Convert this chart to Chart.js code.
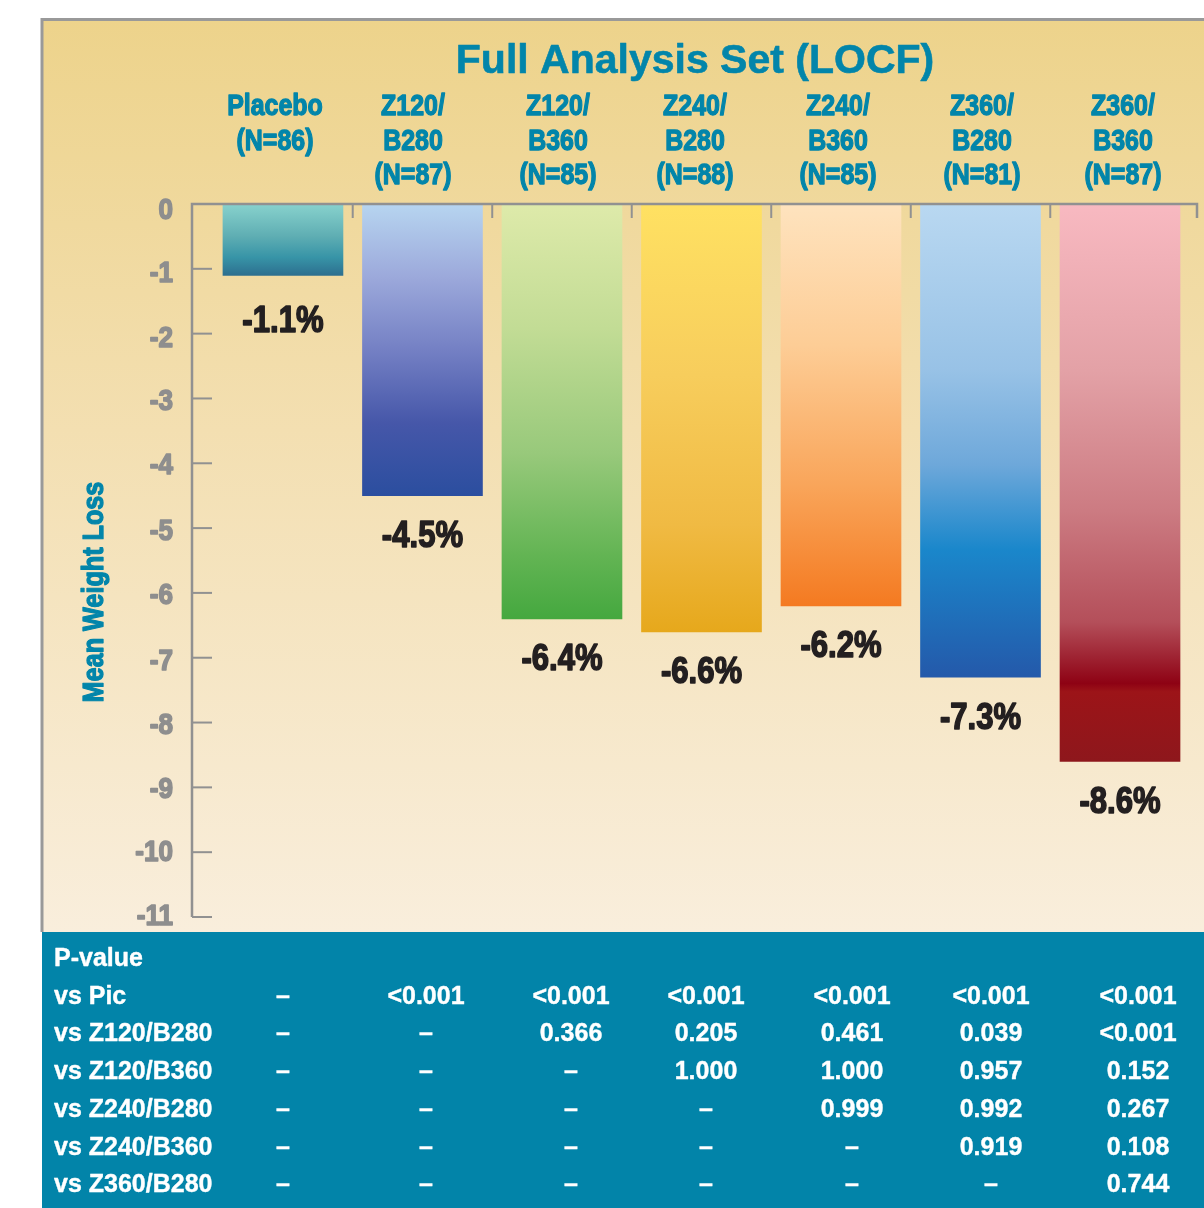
<!DOCTYPE html>
<html>
<head>
<meta charset="utf-8">
<script src="https://cdn.jsdelivr.net/npm/chart.js@4.4.1/dist/chart.umd.min.js"></script>
<style>
  html, body { margin: 0; padding: 0; background: #ffffff; }
  #c { display: block; }
</style>
</head>
<body>
<canvas id="c" width="1204" height="1208"></canvas>
<script>
// ---------------- DATA ----------------
const chartTitle = "Full Analysis Set (LOCF)";
const categories = [
  ["Placebo", "(N=86)"],
  ["Z120/", "B280", "(N=87)"],
  ["Z120/", "B360", "(N=85)"],
  ["Z240/", "B280", "(N=88)"],
  ["Z240/", "B360", "(N=85)"],
  ["Z360/", "B280", "(N=81)"],
  ["Z360/", "B360", "(N=87)"]
];
const meanWeightLoss = [-1.1, -4.5, -6.4, -6.6, -6.2, -7.3, -8.6];
const yTicks = [0, -1, -2, -3, -4, -5, -6, -7, -8, -9, -10, -11];
const yAxisTitle = "Mean Weight Loss";
const tableHeader = "P-value";
const rowLabels = ["vs Pic", "vs Z120/B280", "vs Z120/B360", "vs Z240/B280", "vs Z240/B360", "vs Z360/B280"];
const pVsPlacebo = ["–", "<0.001", "<0.001", "<0.001", "<0.001", "<0.001", "<0.001"];
const pVsZ120B280 = ["–", "–", "0.366", "0.205", "0.461", "0.039", "<0.001"];
const pVsZ120B360 = ["–", "–", "–", "1.000", "1.000", "0.957", "0.152"];
const pVsZ240B280 = ["–", "–", "–", "–", "0.999", "0.992", "0.267"];
const pVsZ240B360 = ["–", "–", "–", "–", "–", "0.919", "0.108"];
const pVsZ360B280 = ["–", "–", "–", "–", "–", "–", "0.744"];
const pRows = [pVsPlacebo, pVsZ120B280, pVsZ120B360, pVsZ240B280, pVsZ240B360, pVsZ360B280];

// ---------------- STYLE ----------------
const TEAL = "#0285AA";
const AXIS_GRAY = "#919191";
const barGradients = [
  [[0, "#88D2CD"], [0.45, "#5FAEB3"], [0.75, "#3794A7"], [1, "#2D6F8F"]],
  [[0, "#B7D5F0"], [0.25, "#9CA9DB"], [0.5, "#7480C4"], [0.75, "#4657A9"], [1, "#2B4E9F"]],
  [[0, "#DEEAAA"], [0.3, "#C2DC95"], [0.6, "#98C97B"], [0.85, "#62B453"], [1, "#45A83F"]],
  [[0, "#FFE162"], [0.4, "#F7CD5C"], [0.75, "#F0BA43"], [1, "#E6A81C"]],
  [[0, "#FEE3BE"], [0.35, "#FDCD96"], [0.7, "#F9A55A"], [1, "#F47A21"]],
  [[0, "#B9D8F1"], [0.35, "#98C2E6"], [0.55, "#6EA8DA"], [0.73, "#1A87CB"], [1, "#2459AA"]],
  [[0, "#F8B9C1"], [0.3, "#E3A1A6"], [0.55, "#CC7B82"], [0.75, "#B44F5A"], [0.86, "#8E0214"], [0.875, "#9C1418"], [1, "#8E171C"]]
];
const tableColX = [283, 426, 571, 706, 852, 991, 1138];
const catLabelX = [275, 413, 558, 695, 838, 982, 1123];
const yTickLabelNudge = [4, 2, 2, 1, 0, 1, 0, 1, 0, 0, -2, -3];

function drawText(ctx, text, x, y, font, color, align, sx, embolden) {
  ctx.save();
  ctx.translate(x, y);
  ctx.scale(sx || 1, 1);
  ctx.font = font;
  ctx.fillStyle = color;
  ctx.textAlign = align || "center";
  ctx.textBaseline = "alphabetic";
  if (embolden) {
    ctx.strokeStyle = color;
    ctx.lineWidth = embolden;
    ctx.lineJoin = "round";
    ctx.strokeText(text, 0, 0);
  }
  ctx.fillText(text, 0, 0);
  ctx.restore();
}

const decorPlugin = {
  id: "decor",
  beforeDraw(chart) {
    const ctx = chart.ctx;
    const W = chart.width, H = chart.height;
    ctx.save();
    ctx.fillStyle = "#ffffff";
    ctx.fillRect(0, 0, W, H);
    const g = ctx.createLinearGradient(0, 19, 0, 932);
    g.addColorStop(0, "#EDD38B");
    g.addColorStop(0.45, "#F3DFB1");
    g.addColorStop(1, "#F9EEDC");
    ctx.fillStyle = g;
    ctx.fillRect(42, 19, W - 42, 932 - 19);
    ctx.fillStyle = "#0284A9";
    ctx.fillRect(42, 932, W - 42, H - 932);
    ctx.strokeStyle = "#999999";
    ctx.lineWidth = 3;
    ctx.beginPath();
    ctx.moveTo(42, 932);
    ctx.lineTo(42, 19.5);
    ctx.lineTo(W, 19.5);
    ctx.stroke();
    ctx.restore();
  },
  afterDatasetsDraw(chart) {
    const ctx = chart.ctx;
    const xs = chart.scales.x, ys = chart.scales.y;
    const area = chart.chartArea;
    const y0 = ys.getPixelForValue(0);
    ctx.save();
    ctx.strokeStyle = AXIS_GRAY;
    ctx.lineWidth = 2.5;
    ctx.beginPath();
    ctx.moveTo(area.right - 1, y0 + 14);
    ctx.lineTo(area.right - 1, y0);
    ctx.lineTo(area.left, y0);
    ctx.lineTo(area.left, ys.getPixelForValue(yTicks[yTicks.length - 1]));
    ctx.stroke();
    ctx.lineWidth = 2;
    for (let i = 0; i < categories.length - 1; i++) {
      const px = xs.getPixelForValue(i + 0.5);
      ctx.beginPath();
      ctx.moveTo(px, y0);
      ctx.lineTo(px, y0 + 14);
      ctx.stroke();
    }
    yTicks.forEach(v => {
      if (v === 0) return;
      const py = ys.getPixelForValue(v);
      ctx.beginPath();
      ctx.moveTo(area.left, py);
      ctx.lineTo(area.left + 20, py);
      ctx.stroke();
    });
    yTicks.forEach((v, k) => {
      const py = ys.getPixelForValue(v);
      drawText(ctx, String(v), 173, py + yTickLabelNudge[k] + 11, "bold 30px 'Liberation Sans'", "#8E8E8E", "right", 0.87, 1.6);
    });
    drawText(ctx, chartTitle, 695, 73, "bold 41px 'Liberation Sans'", TEAL, "center", 1, 0.6);
    categories.forEach((lines, i) => {
      lines.forEach((ln, j) => {
        drawText(ctx, ln, catLabelX[i], 115 + j * 34.5, "bold 29px 'Liberation Sans'", TEAL, "center", 0.86, 1.3);
      });
    });
    meanWeightLoss.forEach((v, i) => {
      const px = xs.getPixelForValue(i);
      const py = ys.getPixelForValue(v);
      const off = i === 0 ? 43 : 38;
      drawText(ctx, v.toFixed(1) + "%", px, py + off + 13.5, "bold 37px 'Liberation Sans'", "#231F20", "center", 0.84, 1.6);
    });
    ctx.save();
    ctx.translate(103, 592);
    ctx.rotate(-Math.PI / 2);
    ctx.scale(0.84, 1);
    ctx.font = "bold 30px 'Liberation Sans'";
    ctx.fillStyle = TEAL;
    ctx.strokeStyle = TEAL;
    ctx.lineWidth = 1.3;
    ctx.lineJoin = "round";
    ctx.textAlign = "center";
    ctx.textBaseline = "alphabetic";
    ctx.strokeText(yAxisTitle, 0, 0);
    ctx.fillText(yAxisTitle, 0, 0);
    ctx.restore();
    const tf = "bold 25px 'Liberation Sans'";
    drawText(ctx, tableHeader, 54, 966, tf, "#ffffff", "left", 1, 0.4);
    rowLabels.forEach((lab, r) => {
      const by = 966 + (r + 1) * 37.7;
      drawText(ctx, lab, 54, by, tf, "#ffffff", "left", 1, 0.4);
      pRows[r].forEach((val, c) => {
        drawText(ctx, val, tableColX[c], by, tf, "#ffffff", "center", 1, 0.4);
      });
    });
    ctx.restore();
  }
};

new Chart(document.getElementById("c"), {
  type: "bar",
  data: {
    datasets: [{
      data: meanWeightLoss.map((v, i) => ({ x: i, y: v })),
      barThickness: 120,
      borderWidth: 0,
      backgroundColor(context) {
        const chart = context.chart;
        const i = context.dataIndex;
        const stops = barGradients[i % barGradients.length];
        if (!chart.chartArea || i === undefined) return stops[0][1];
        const ys = chart.scales.y;
        const top = ys.getPixelForValue(0);
        const bot = ys.getPixelForValue(meanWeightLoss[i]);
        const g = chart.ctx.createLinearGradient(0, top, 0, bot);
        stops.forEach(s => g.addColorStop(s[0], s[1]));
        return g;
      }
    }]
  },
  options: {
    responsive: false,
    animation: false,
    layout: { padding: { left: 192, right: 6, top: 204, bottom: 291 } },
    scales: {
      x: { type: "linear", offset: false, min: -0.652, max: 6.559, display: false },
      y: { type: "linear", min: -11, max: 0, display: false }
    },
    plugins: { legend: { display: false }, tooltip: { enabled: false } }
  },
  plugins: [decorPlugin]
});
</script>
</body>
</html>
